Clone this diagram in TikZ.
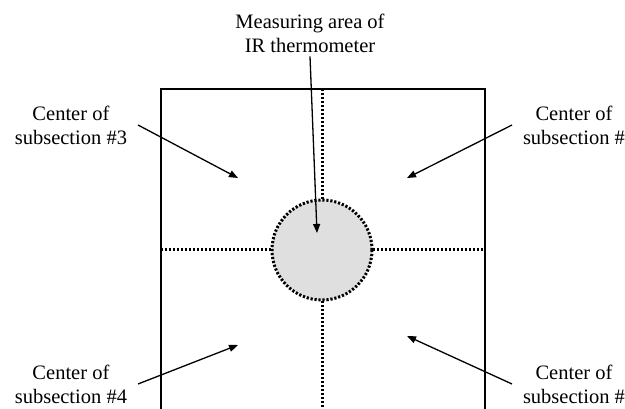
\documentclass[tikz,border=0pt]{standalone}
\usepackage{fontspec}
\setmainfont{Liberation Serif}
\usetikzlibrary{arrows.meta, positioning}

\begin{document}
\begin{tikzpicture}[x=1pt, y=1pt, font=\fontsize{20.5}{24}\selectfont]
  \tikzset{
    callout/.style={align=center, inner sep=0pt, outer sep=11pt},
    pointer/.style={-{Triangle[length=9pt, width=7pt]}, line width=1.3pt},
    divider/.style={line width=3pt, dash pattern=on 2.2pt off 1.8pt},
    plate/.style={line width=2.8pt}
  }
  \useasboundingbox (0,0) rectangle (625,409);
  \clip (0,0) rectangle (625,409);

  % plate and subsections
  \draw[plate] (161,-20) -- (161,320) -- (485,320) -- (485,-20);
  \draw[divider] (322,320) -- (322,0);
  \draw[divider] (161,159) -- (485,159);
  \node[circle, minimum size=100pt, fill=gray!25, draw, divider] (spot) at (322,159) {};

  % target points
  \coordinate (cm) at (317,176);
  \coordinate (c3) at (238,231);
  \coordinate (c1) at (407,231);
  \coordinate (c4) at (238,64);
  \coordinate (c2) at (407,73);

  % labels
  \node[callout, outer sep=4pt] (meas) at (310,376) {Measuring area of\\IR thermometer};
  \node[callout, anchor=east] (sub3) at (138,284) {Center of\\subsection \#3};
  \node[callout, anchor=west] (sub1) at (512,284) {Center of\\subsection \#};
  \node[callout, anchor=east] (sub4) at (138,25) {Center of\\subsection \#4};
  \node[callout, anchor=west] (sub2) at (512,25) {Center of\\subsection \#};

  \draw[pointer] (meas.south) -- (cm);
  \draw[pointer] (sub3.east) -- (c3);
  \draw[pointer] (sub1.west) -- (c1);
  \draw[pointer] (sub4.east) -- (c4);
  \draw[pointer] (sub2.west) -- (c2);
\end{tikzpicture}
\end{document}
